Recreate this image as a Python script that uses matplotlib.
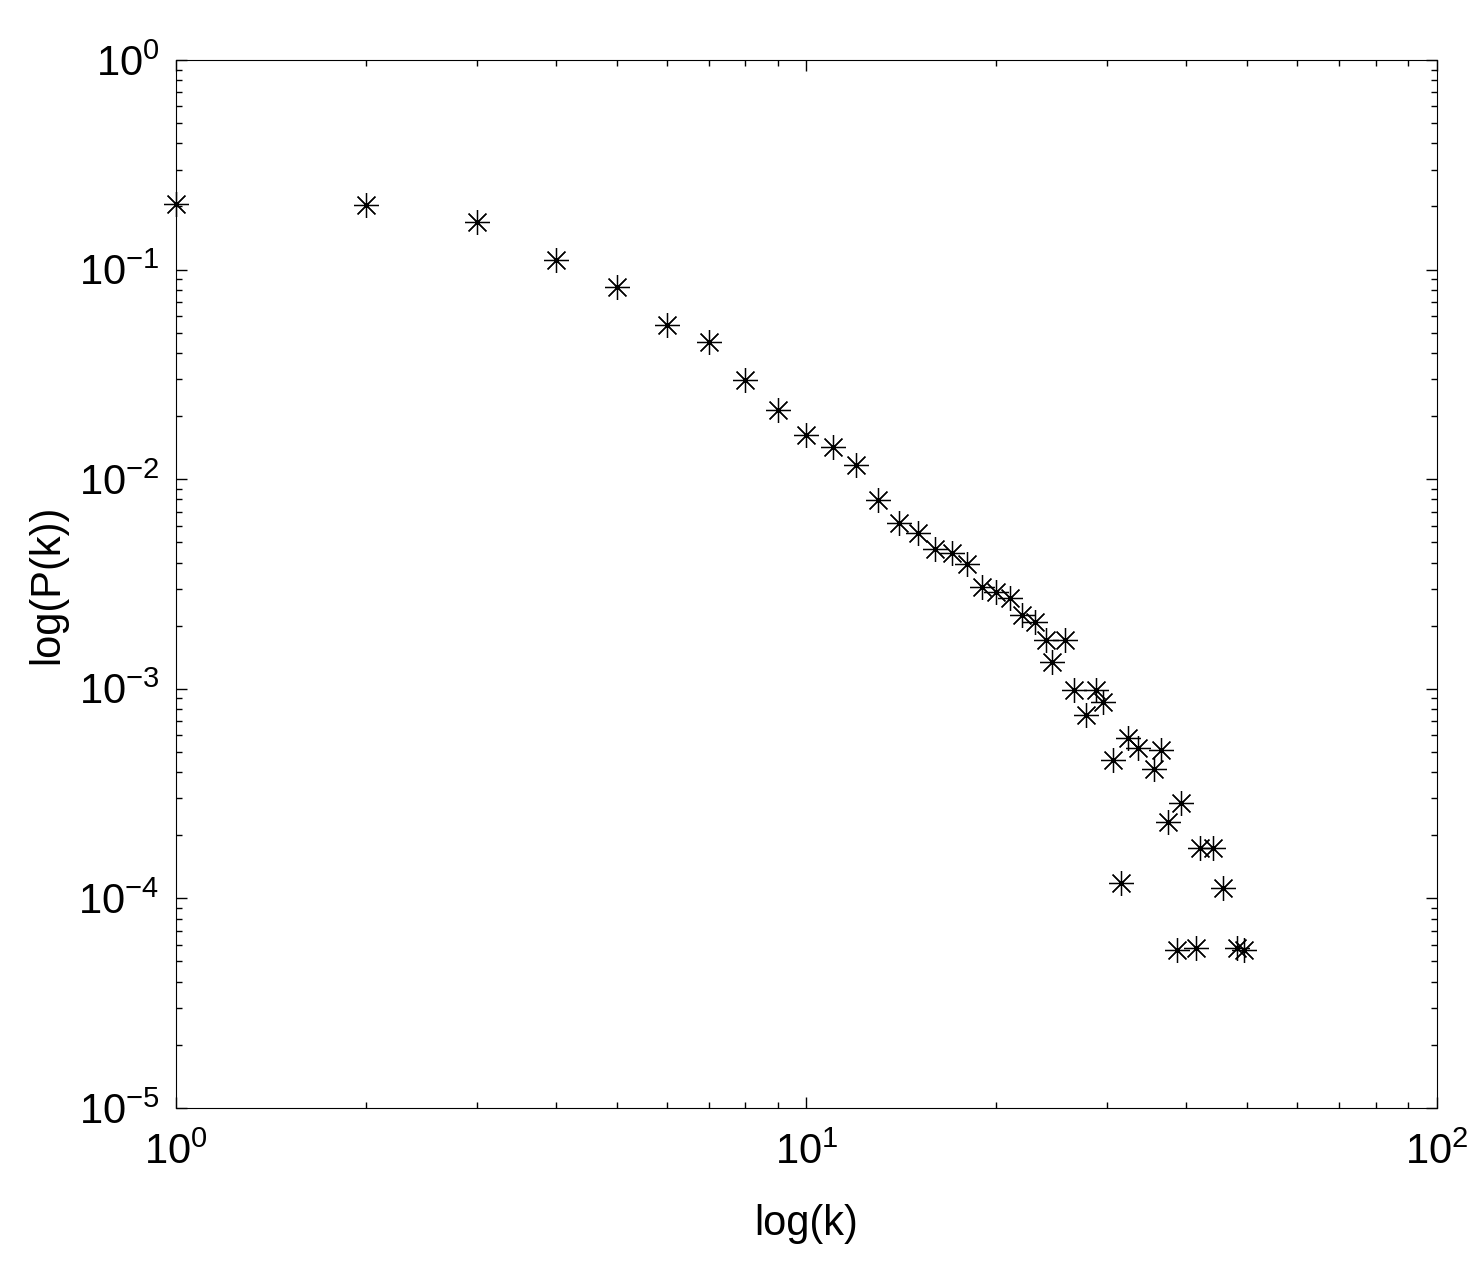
import matplotlib
matplotlib.use("Agg")
import matplotlib.pyplot as plt
from matplotlib.ticker import LogLocator, NullFormatter

k = [1,2,3,4,5,6,7,8,9,10,11,12,13,14,15,16,17,18,19,20,21,22,23,24,24.5,25.7,26.6,27.8,28.8,29.5,
     30.6,31.5,32.4,33.6,35.6,36.5,37.4,38.7,39.3,41.5,42.1,44.1,45.8,48.2,49.4]
pk = [0.205,0.203,0.169,0.111,0.0826,0.0544,0.0451,0.0297,0.0214,0.0163,0.0142,0.0117,0.00796,0.00618,
      0.00554,0.00464,0.00445,0.00394,0.00306,0.00290,0.00271,0.00225,0.00208,0.00171,0.00134,0.00171,
      0.00099,0.00075,0.00099,0.000865,
      0.000457,0.000118,0.000582,0.000522,0.000414,0.00051,0.000231,5.67e-5,0.000285,5.8e-5,0.000174,
      0.000174,0.000112,5.8e-5,5.67e-5]

plt.rcParams['font.family'] = ['Liberation Sans', 'DejaVu Sans']
fig = plt.figure(figsize=(14.84, 12.68), dpi=100)
ax = fig.add_axes([0.1186, 0.1262, 0.8497, 0.8265])
ax.plot(k, pk, linestyle='none', marker=(8, 2, 0), markersize=18, markeredgewidth=0.9,
        color='black', clip_on=False)
ax.set_xscale('log'); ax.set_yscale('log')
ax.set_xlim(1, 100); ax.set_ylim(1e-5, 1)
ax.tick_params(which='both', direction='in', top=True, right=True, labelsize=30, width=1)
ax.tick_params(axis='x', which='major', pad=18)
ax.tick_params(axis='y', which='major', pad=12)
ax.tick_params(which='major', length=8)
ax.tick_params(which='minor', length=4)
ax.xaxis.set_minor_locator(LogLocator(base=10, subs=range(2, 10)))
ax.yaxis.set_minor_locator(LogLocator(base=10, subs=range(2, 10)))
ax.xaxis.set_minor_formatter(NullFormatter()); ax.yaxis.set_minor_formatter(NullFormatter())
ax.set_xlabel('log(k)', fontsize=30, labelpad=22)
ax.set_ylabel('log(P(k))', fontsize=30, labelpad=8)
fig.savefig('out.png', dpi=100)
